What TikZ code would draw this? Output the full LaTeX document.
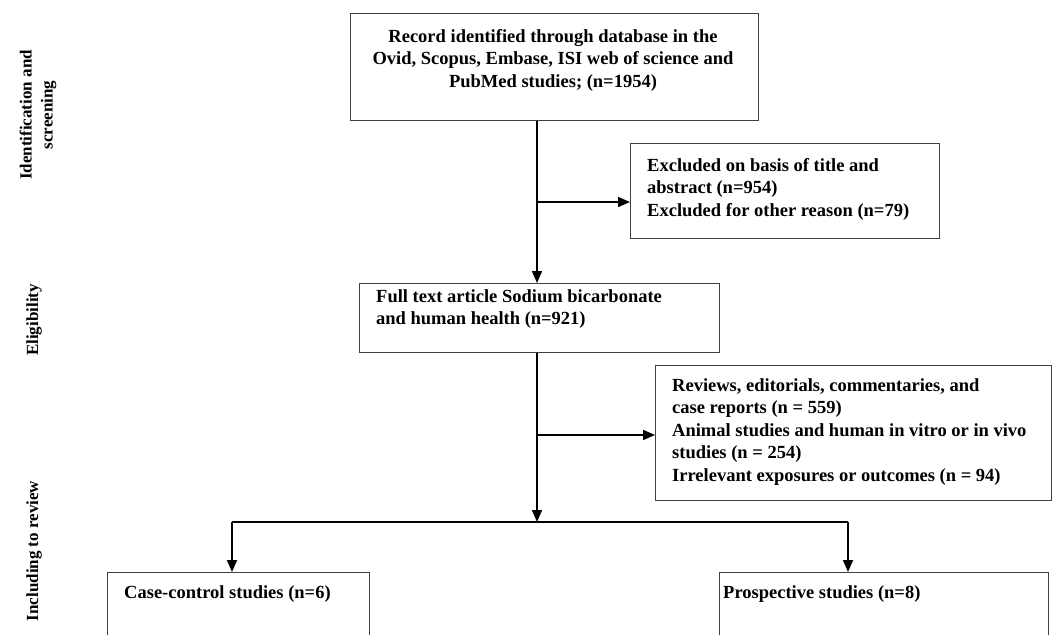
\documentclass[tikz,border=0pt]{standalone}
\usepackage{fontspec}
\setmainfont{Liberation Serif}
\usetikzlibrary{arrows.meta}
\begin{document}
\begin{tikzpicture}[x=1pt,y=-1pt,
  box/.style={draw=black!75, line width=0.9pt, inner sep=0pt, anchor=north west},
  txt/.style={font=\bfseries\fontsize{18.5}{22.5}\selectfont, align=left, anchor=north west, inner sep=0pt},
  side/.style={font=\bfseries\fontsize{17}{21}\selectfont, align=center, rotate=90, inner sep=0pt},
  arr/.style={line width=1.7pt, -{Triangle[length=12pt,width=10pt]}},
  ln/.style={line width=1.7pt}]
\clip (0,0) rectangle (1053,635);
\fill[white] (0,0) rectangle (1053,635);

% boxes
\node[box, minimum width=408pt, minimum height=107pt] (top) at (350,13) {};
\node[box, minimum width=309pt, minimum height=95pt] (excl) at (630,143) {};
\node[box, minimum width=360pt, minimum height=69pt] (full) at (359,283) {};
\node[box, minimum width=396pt, minimum height=135pt] (rev) at (655,365) {};
\node[box, minimum width=262pt, minimum height=80pt] (case) at (107,572) {};
\node[box, minimum width=329pt, minimum height=80pt] (pros) at (719,572) {};

% texts
\node[txt, anchor=north, align=center] (ttop) at (553,29) {Record identified through database in the\\Ovid, Scopus, Embase, ISI web of science and\\PubMed studies; (n=1954)};
\node[txt] (texcl) at (647,158) {Excluded on basis of title and\\abstract (n=954)\\Excluded for other reason (n=79)};
\node[txt] (tfull) at (376,289) {Full text article Sodium bicarbonate\\and human health (n=921)};
\node[txt] (trev) at (672,378) {Reviews, editorials, commentaries, and\\case reports (n = 559)\\Animal studies and human in vitro or in vivo\\studies (n = 254)\\Irrelevant exposures or outcomes (n = 94)};
\node[txt] (tcase) at (124,585) {Case-control studies (n=6)};
\node[txt] (tpros) at (723,585) {Prospective studies (n=8)};

% side labels
\node[side] (l1) at (38,115) {Identification and\\screening};
\node[side] (l2) at (34,320) {Eligibility};
\node[side] (l3) at (34,551) {Including to review};

% connectors
\coordinate (a1) at (537,0);
\coordinate (b1) at (537,202);
\coordinate (b2) at (537,435);
\coordinate (j) at (537,522);
\coordinate (hl) at (232,522);
\coordinate (hr) at (848,522);
\draw[arr] (top.south -| a1) -- (full.north -| a1);
\draw[arr] (b1) -- (b1 -| excl.west);
\draw[arr] (full.south -| a1) -- (j);
\draw[arr] (b2) -- (b2 -| rev.west);
\draw[ln] (hl) -- (hr);
\draw[arr] (hl) -- (hl |- case.north);
\draw[arr] (hr) -- (hr |- pros.north);
\end{tikzpicture}
\end{document}
